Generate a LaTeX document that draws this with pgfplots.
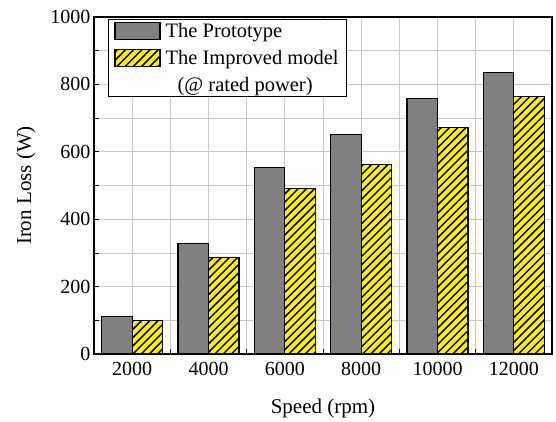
\documentclass[border=0pt]{standalone}
\usepackage{fontspec}
\setmainfont{Liberation Serif}
\usepackage{pgfplots}
\pgfplotsset{compat=1.18}
\usetikzlibrary{patterns.meta}
\definecolor{protogray}{RGB}{128,128,128}
\definecolor{gridgray}{RGB}{200,200,200}
\begin{document}
\begin{tikzpicture}
\pgfplotsset{mylegend/.style={legend image code/.code={\draw[##1, line width=1.2pt] (0pt,-8.5pt) rectangle (45pt,8.5pt);}}}
\begin{axis}[name=ax, scale only axis, width=458pt, height=337pt,
  xmin=1000, xmax=13000, ymin=0, ymax=1000,
  xtick={2000,4000,...,12000}, minor xtick={3000,5000,...,11000},
  ytick={0,200,...,1000}, minor ytick={100,300,...,900},
  /pgf/number format/1000 sep={}, scaled x ticks=false, scaled y ticks=false,
  /pgf/number format/assume math mode=true,
  grid=both, major grid style={draw=gridgray, line width=0.8pt}, minor grid style={draw=gridgray, line width=0.8pt},
  tick align=inside, tick pos=left, major tick length=5pt, minor tick length=5pt,
  tick style={black, line width=0.8pt},
  axis line style={line width=1.2pt},
  tick label style={font=\fontsize{20}{22}\selectfont},
  xticklabel style={yshift=-5pt},
  label style={font=\fontsize{21}{25}\selectfont},
  xlabel={Speed (rpm)}, ylabel={Iron Loss (W)},
  xlabel style={yshift=-16pt},
  ylabel style={yshift=8pt},
  legend style={at={(0,1)}, anchor=north west, xshift=14pt, yshift=-2pt, draw=black, line width=0.8pt, fill=white,
    font=\fontsize{20.5}{24}\selectfont, cells={anchor=west}, inner xsep=6pt, inner ysep=2pt, row sep=7pt, column sep=3pt},
  legend cell align=left,
]
\addplot[ybar, mylegend, bar width=800, bar shift=-400, fill=protogray, draw=black, line width=1.2pt]
  coordinates {(2000,111) (4000,328) (6000,553) (8000,652) (10000,757) (12000,836)};
\addlegendentry{The Prototype}
\addplot[ybar, mylegend, bar width=800, bar shift=400, fill=yellow, draw=black, line width=1.2pt,
  postaction={pattern={Lines[angle=45,distance=5.8pt,line width=1.5pt]}, pattern color=black}]
  coordinates {(2000,99) (4000,287) (6000,490) (8000,563) (10000,672) (12000,765)};
\addlegendentry{The Improved model\hspace{18pt}}
\addlegendimage{legend image code/.code={\path[draw=none,fill=none] (0pt,-8.5pt) rectangle (45pt,8.5pt);}}
\addlegendentry{\hspace{12pt}(@ rated power)}
\end{axis}
\path ([xshift=-94pt,yshift=-67pt]ax.south west) rectangle ([xshift=4pt,yshift=17pt]ax.north east);
\end{tikzpicture}
\end{document}
